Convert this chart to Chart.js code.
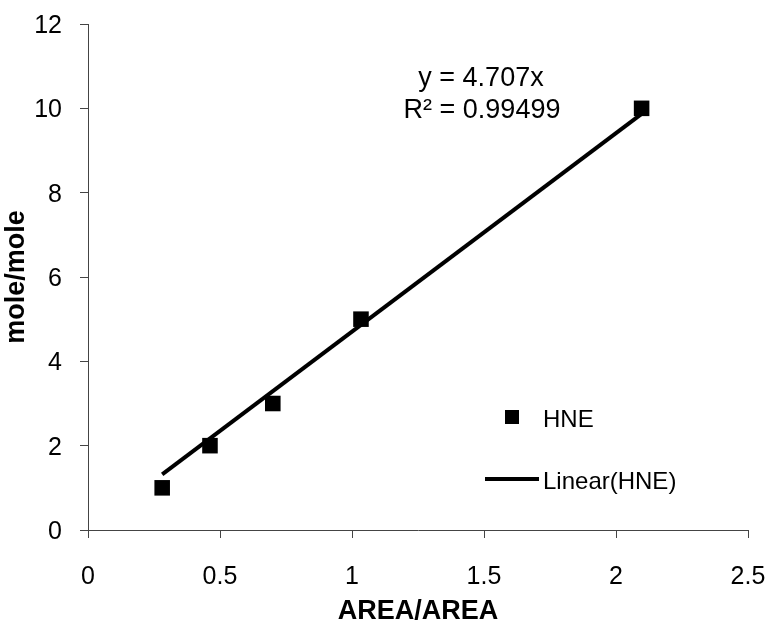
<!DOCTYPE html>
<html>
<head>
<meta charset="utf-8">
<script src="https://cdn.jsdelivr.net/npm/chart.js@4"></script>
<style>
  html, body { margin: 0; padding: 0; background: #fff; }
  .chart-box { width: 772px; height: 629px; }
</style>
</head>
<body>
<div class="chart-box"><canvas id="hneChart"></canvas></div>
<script>
// values
const xValues = [0.281, 0.462, 0.70, 1.034, 2.097];
const yValues = [1, 2, 3, 5, 10];
const trendX = [0.281, 2.097];
const trendY = [1.32, 9.87];
const xTicks = [0, 0.5, 1, 1.5, 2, 2.5];
const yTicks = [0, 2, 4, 6, 8, 10, 12];
const seriesName = 'HNE';
const trendName = 'Linear(HNE)';
const equationLines = ['y = 4.707x', 'R\u00b2 = 0.99499'];

const fontFamily = "'Liberation Sans', Arial, sans-serif";
const axisColor = '#444';

const points = xValues.map((x, i) => ({ x: x, y: yValues[i] }));
const trend = trendX.map((x, i) => ({ x: x, y: trendY[i] }));

// equation text + legend, drawn where Excel put them
const extrasPlugin = {
    id: 'extras',
    afterDraw(chart) {
        const ctx = chart.ctx;
        ctx.save();
        ctx.fillStyle = '#000';
        ctx.textBaseline = 'middle';

        ctx.font = `27px ${fontFamily}`;
        ctx.textAlign = 'center';
        ctx.fillText(equationLines[0], 481, 79);
        ctx.fillText(equationLines[1], 482, 111);

        ctx.font = `24px ${fontFamily}`;
        ctx.textAlign = 'left';
        ctx.fillRect(512 - 7, 417 - 7, 14, 14);
        ctx.fillText(chart.data.datasets[0].label, 543, 420);

        ctx.strokeStyle = '#000';
        ctx.lineWidth = 4;
        ctx.beginPath();
        ctx.moveTo(485, 479);
        ctx.lineTo(539, 479);
        ctx.stroke();
        ctx.fillText(chart.data.datasets[1].label, 543, 482);
        ctx.restore();
    }
};

function noLabelPadding(s) {
    s.paddingTop = 0;
    s.paddingBottom = 0;
    s.paddingLeft = 0;
    s.paddingRight = 0;
}

new Chart(document.getElementById('hneChart'), {
    type: 'scatter',
    data: {
        datasets: [{
            label: seriesName,
            data: points,
            pointStyle: 'rect',
            pointRadius: 11,
            pointHoverRadius: 11,
            backgroundColor: '#000',
            borderColor: '#000',
            borderWidth: 0,
            order: 0
        }, {
            type: 'line',
            label: trendName,
            data: trend,
            borderColor: '#000',
            borderWidth: 4,
            pointRadius: 0,
            fill: false,
            order: 1
        }]
    },
    options: {
        responsive: true,
        maintainAspectRatio: false,
        animation: false,
        layout: { padding: { top: 24, right: 24, left: 0, bottom: 0 } },
        plugins: {
            legend: { display: false },
            tooltip: { enabled: false }
        },
        scales: {
            x: {
                type: 'linear',
                min: 0,
                max: 2.5,
                afterBuildTicks: s => { s.ticks = xTicks.map(v => ({ value: v })); },
                afterFit: s => { s.height = 99; noLabelPadding(s); },
                grid: { drawOnChartArea: false, drawTicks: true, tickLength: 8, color: axisColor },
                border: { display: true, color: axisColor, width: 1 },
                ticks: {
                    color: '#000',
                    padding: 24,
                    font: { family: fontFamily, size: 25 },
                    callback: v => String(v)
                },
                title: {
                    display: true,
                    text: 'AREA/AREA',
                    color: '#000',
                    padding: { top: 0, bottom: 1 },
                    font: { family: fontFamily, size: 27, weight: 'bold' }
                }
            },
            y: {
                type: 'linear',
                min: 0,
                max: 12,
                afterBuildTicks: s => { s.ticks = yTicks.map(v => ({ value: v })); },
                afterFit: s => { s.width = 88; noLabelPadding(s); },
                grid: { drawOnChartArea: false, drawTicks: true, tickLength: 8, color: axisColor },
                border: { display: true, color: axisColor, width: 1 },
                ticks: {
                    color: '#000',
                    padding: 18,
                    labelOffset: 2,
                    font: { family: fontFamily, size: 25 },
                    callback: v => String(v)
                },
                title: {
                    display: true,
                    text: 'mole/mole',
                    color: '#000',
                    padding: { top: 0, bottom: 0 },
                    font: { family: fontFamily, size: 27, weight: 'bold' }
                }
            }
        }
    },
    plugins: [extrasPlugin]
});
</script>
</body>
</html>
